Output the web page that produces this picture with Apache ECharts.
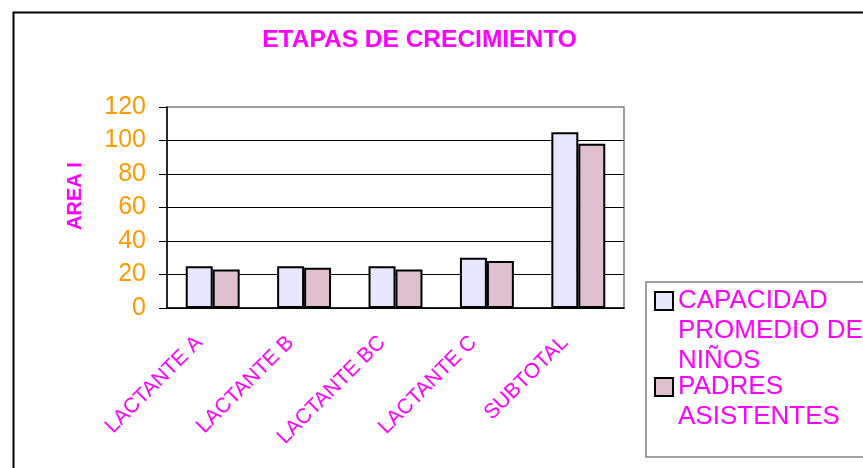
<!DOCTYPE html>
<html>
<head>
<meta charset="utf-8">
<script src="https://cdn.jsdelivr.net/npm/echarts@6/dist/echarts.min.js"></script>
<style>
  html, body { margin: 0; padding: 0; background: #fff; }
  #chart { width: 863px; height: 468px; }
</style>
</head>
<body>
<div id="chart"></div>
<script>
const categories = ["LACTANTE A", "LACTANTE B", "LACTANTE BC", "LACTANTE C", "SUBTOTAL"];
const capacidad = [25, 25, 25, 30, 105];
const padres = [23, 24, 23, 28, 98];
const seriesNames = ["CAPACIDAD PROMEDIO DE NIÑOS", "PADRES ASISTENTES"];
const legendLines = ["CAPACIDAD\nPROMEDIO DE\nNIÑOS", "PADRES\nASISTENTES"];
const yTicks = { min: 0, max: 120, interval: 20 };

const FONT = "'Liberation Sans', Arial, sans-serif";
const MAGENTA = "#FF00FF";

const chart = echarts.init(document.getElementById("chart"));

chart.setOption({
  animation: false,
  backgroundColor: "#fff",
  graphic: [
    {
      // outer chart frame
      type: "rect",
      left: 11,
      top: 10,
      shape: { width: 900, height: 500 },
      style: { fill: "none", stroke: "#000", lineWidth: 2 },
      silent: true,
      z: -1
    }
  ],
  title: {
    text: "ETAPAS DE CRECIMIENTO",
    left: 414.5,
    top: 23,
    textAlign: "center",
    textStyle: { fontFamily: FONT, fontSize: 24.5, fontWeight: "bold", color: MAGENTA }
  },
  grid: {
    left: 167,
    top: 107,
    width: 457,
    height: 201,
    show: true,
    borderColor: "#808080",
    borderWidth: 1.5
  },
  legend: {
    orient: "vertical",
    left: 646,
    top: 282,
    padding: [3, 30, 9, 8],
    itemGap: -21,
    itemWidth: 18,
    itemHeight: 90,
    borderColor: "#808080",
    borderWidth: 1.5,
    backgroundColor: "#fff",
    selectedMode: false,
    itemStyle: { borderColor: "#000", borderWidth: 2 },
    textStyle: { fontFamily: FONT, fontSize: 26, lineHeight: 30, color: MAGENTA },
    formatter: (name) => legendLines[seriesNames.indexOf(name)],
    data: [
      { name: seriesNames[0], icon: "path://M0,0M18,90M0,6H18V24H0Z" },
      { name: seriesNames[1], icon: "path://M0,0M18,90M0,21H18V39H0Z" }
    ]
  },
  xAxis: {
    type: "category",
    data: categories,
    axisLine: { lineStyle: { color: "#000", width: 1.5 } },
    axisTick: { length: 6, lineStyle: { color: "#000" } },
    axisLabel: {
      interval: 0,
      rotate: 45,
      margin: 18,
      padding: [0, 19, 0, 0],
      fontFamily: FONT,
      fontSize: 21,
      color: MAGENTA
    }
  },
  yAxis: {
    type: "value",
    min: yTicks.min,
    max: yTicks.max,
    interval: yTicks.interval,
    name: "AREA I",
    nameLocation: "middle",
    nameRotate: 90,
    nameGap: 82,
    nameTextStyle: {
      fontFamily: FONT,
      fontSize: 20,
      fontWeight: "bold",
      color: MAGENTA,
      padding: [0, 0, 0, 23]
    },
    axisLine: { show: true, lineStyle: { color: "#000", width: 1.5 } },
    axisTick: { show: true, length: 8, lineStyle: { color: "#000" } },
    axisLabel: { margin: 21, fontFamily: FONT, fontSize: 25, color: "#FF9900" },
    splitLine: { showMaxLine: false, lineStyle: { color: "#000", width: 1 } }
  },
  series: [
    {
      name: seriesNames[0],
      type: "bar",
      data: capacidad,
      barGap: "0%",
      barCategoryGap: "41%",
      itemStyle: { color: "#E6E6FC", borderColor: "#000", borderWidth: 2 }
    },
    {
      name: seriesNames[1],
      type: "bar",
      data: padres,
      itemStyle: { color: "#DFC0CE", borderColor: "#000", borderWidth: 2 }
    }
  ]
});
</script>
</body>
</html>
